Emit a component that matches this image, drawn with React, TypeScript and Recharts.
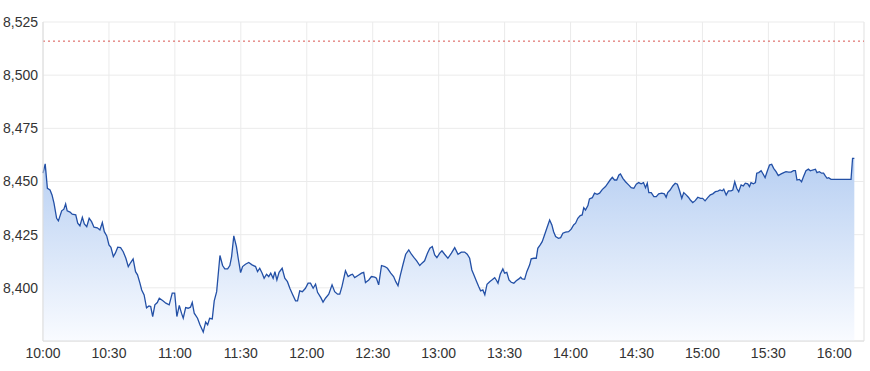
import React from "react";
import {
  ComposedChart,
  Area,
  XAxis,
  YAxis,
  CartesianGrid,
  ReferenceLine,
} from "recharts";

// [minutes since 10:00, index level]
const hour10: [number, number][] = [
  [0, 8453.9], [1.0, 8458.3], [2.0, 8446.8], [3.2, 8446.0], [4.1, 8443.7], [5.0, 8439.8],
  [6.2, 8432.7], [7.0, 8431.5], [8.5, 8436.2], [9.5, 8437.0], [10.3, 8439.5], [11.0, 8436.2],
  [12.3, 8435.6], [13.3, 8434.6], [14.9, 8434.3], [15.8, 8430.4], [16.8, 8429.1], [17.9, 8433.2],
  [18.8, 8430.1], [19.9, 8428.8], [21.0, 8432.7], [22.1, 8431.1], [23.2, 8428.5], [24.7, 8428.2],
  [25.9, 8427.2], [27.0, 8430.7], [27.9, 8426.4], [29.0, 8424.4], [30.0, 8420.2], [30.9, 8419.1],
  [32.0, 8414.7], [32.9, 8416.3], [34.0, 8419.1], [35.3, 8418.9], [36.5, 8417.0], [37.7, 8413.9],
  [38.8, 8410.0], [39.9, 8411.9], [41.0, 8413.6], [42.1, 8407.6], [43.0, 8406.1], [44.1, 8402.2],
  [44.9, 8399.0], [46.0, 8396.7], [47.1, 8390.6], [48.2, 8391.5], [49.0, 8391.2], [49.9, 8386.5],
  [50.9, 8392.0], [52.0, 8393.1], [52.9, 8395.1], [54.4, 8394.0], [55.9, 8392.8], [57.4, 8392.0],
  [58.8, 8397.5], [59.9, 8397.5],
];

const hour11: [number, number][] = [
  [60.9, 8386.5], [62.0, 8391.7], [63.0, 8388.1], [63.8, 8385.7], [64.9, 8390.7], [66.0, 8390.4],
  [67.1, 8390.9], [67.9, 8393.1], [68.8, 8388.1], [70.3, 8385.7], [71.4, 8382.6], [72.9, 8379.2],
  [74.0, 8383.9], [74.9, 8382.6], [75.8, 8385.7], [77.0, 8385.4], [77.9, 8393.9], [79.0, 8398.2],
  [80.5, 8415.2], [81.7, 8410.5], [82.7, 8408.9], [84.0, 8408.9], [85.0, 8410.5], [85.8, 8414.7],
  [86.8, 8424.4], [88.0, 8419.4], [88.8, 8413.9], [89.9, 8407.2], [90.8, 8410.0], [92.1, 8411.1],
  [93.6, 8411.9], [95.1, 8410.8], [96.7, 8410.0], [97.6, 8407.6], [98.6, 8409.2], [99.7, 8406.9],
  [100.6, 8404.5], [101.7, 8406.4], [102.7, 8405.3], [103.6, 8406.9], [104.7, 8404.5], [105.5, 8407.6],
  [106.4, 8403.7], [107.4, 8407.3], [108.8, 8409.2], [110.0, 8404.5], [111.2, 8402.9], [112.3, 8399.8],
  [113.5, 8397.0], [114.9, 8393.9], [115.8, 8393.9], [116.8, 8398.6], [118.0, 8398.2], [119.4, 8399.8],
];

const hour12: [number, number][] = [
  [120.6, 8402.2], [121.7, 8402.2], [122.9, 8399.8], [124.0, 8401.7], [124.9, 8397.9], [126.4, 8395.4],
  [127.4, 8393.3], [128.5, 8395.1], [130.0, 8397.0], [131.5, 8401.4], [132.7, 8398.2], [134.0, 8397.0],
  [135.0, 8397.0], [136.0, 8400.6], [137.6, 8408.0], [138.8, 8405.3], [140.0, 8406.1], [140.8, 8406.4],
  [141.8, 8404.8], [143.3, 8405.8], [144.9, 8406.9], [145.9, 8407.3], [146.7, 8402.5], [148.2, 8403.7],
  [149.4, 8405.3], [150.9, 8405.0], [151.7, 8404.5], [152.7, 8401.4], [154.0, 8410.5], [155.5, 8410.0],
  [156.7, 8409.2], [158.2, 8406.9], [159.5, 8405.3], [160.5, 8402.9], [161.5, 8401.0], [162.6, 8406.1],
  [163.8, 8411.1], [165.0, 8415.8], [166.4, 8417.8], [167.6, 8415.8], [168.8, 8414.2], [170.0, 8412.7],
  [171.4, 8410.5], [172.4, 8411.6], [173.6, 8412.7], [174.9, 8416.3], [176.0, 8418.6], [177.1, 8419.4],
  [178.2, 8415.5], [179.2, 8414.2],
];

const hour13: [number, number][] = [
  [180.5, 8416.3], [181.5, 8417.4], [182.7, 8415.8], [184.2, 8413.9], [185.8, 8416.3], [187.3, 8418.9],
  [188.8, 8415.8], [190.3, 8416.8], [191.8, 8416.8], [193.0, 8415.8], [194.1, 8413.9], [195.1, 8408.4],
  [196.0, 8406.1], [197.1, 8403.3], [198.2, 8400.6], [199.1, 8398.6], [200.1, 8399.0], [201.0, 8396.7],
  [202.0, 8401.7], [203.2, 8402.9], [204.2, 8403.7], [205.5, 8404.8], [206.2, 8403.7], [207.0, 8402.2],
  [208.0, 8406.4], [209.2, 8408.9], [210.0, 8406.9], [211.0, 8407.3], [212.0, 8403.7], [213.0, 8402.6],
  [214.2, 8402.2], [215.3, 8403.3], [216.5, 8404.2], [217.3, 8405.0], [218.0, 8404.2], [219.1, 8404.0],
  [220.1, 8407.6], [221.4, 8410.8], [222.1, 8413.6], [223.3, 8413.9], [224.4, 8413.9], [225.1, 8418.6],
  [226.2, 8420.2], [227.1, 8421.7], [228.2, 8425.0], [229.2, 8428.0], [230.5, 8431.9], [231.5, 8429.6],
  [232.3, 8426.4], [233.2, 8424.1], [234.5, 8423.3], [235.5, 8423.6], [236.5, 8425.7], [237.7, 8426.2],
  [239.1, 8426.4],
];

const hour14: [number, number][] = [
  [240.3, 8427.6], [241.4, 8429.6], [242.3, 8430.4], [243.3, 8432.7], [244.4, 8434.0], [245.3, 8434.3],
  [246.0, 8437.7], [246.8, 8436.6], [247.9, 8438.7], [248.6, 8441.8], [249.9, 8442.4], [250.9, 8444.5],
  [252.1, 8444.0], [253.2, 8444.5], [254.4, 8446.2], [255.9, 8447.6], [257.0, 8449.2], [258.0, 8450.7],
  [259.0, 8452.0], [260.0, 8450.7], [261.0, 8450.7], [262.0, 8453.1], [262.7, 8453.6], [263.8, 8451.5],
  [265.0, 8449.9], [266.4, 8448.4], [267.6, 8447.1], [268.8, 8446.8], [269.9, 8448.7], [271.0, 8449.5],
  [272.1, 8448.9], [273.2, 8449.5], [274.1, 8447.1], [274.9, 8449.2], [275.6, 8444.8], [276.7, 8444.8],
  [277.9, 8442.9], [279.0, 8442.9], [280.1, 8444.2], [281.5, 8444.5], [282.7, 8444.2], [283.5, 8442.6],
  [284.2, 8444.8], [285.3, 8446.0], [286.5, 8447.9], [287.6, 8449.2], [288.6, 8448.7], [289.5, 8446.0],
  [290.6, 8442.1], [291.5, 8444.8], [292.6, 8443.7], [293.6, 8442.6], [294.5, 8441.3], [295.6, 8440.1],
  [296.7, 8441.0], [297.9, 8442.6], [299.1, 8442.1],
];

const hour15: [number, number][] = [
  [300.1, 8442.1], [301.2, 8440.9], [302.4, 8442.4], [303.6, 8443.7], [304.7, 8444.2], [305.9, 8445.2],
  [307.0, 8445.5], [308.0, 8446.0], [309.0, 8445.6], [309.7, 8446.4], [310.8, 8443.7], [311.8, 8445.6],
  [313.0, 8445.6], [313.8, 8446.0], [314.7, 8449.9], [315.6, 8446.8], [316.5, 8445.2], [317.6, 8448.4],
  [318.6, 8447.9], [319.5, 8449.2], [320.6, 8448.9], [321.4, 8447.6], [322.1, 8449.5], [323.2, 8448.9],
  [324.1, 8449.5], [324.7, 8453.9], [325.6, 8454.2], [326.7, 8455.1], [327.4, 8453.9], [328.5, 8451.8],
  [329.4, 8454.6], [330.5, 8457.8], [331.5, 8458.1], [332.4, 8456.2], [333.5, 8454.6], [334.5, 8452.8],
  [335.8, 8453.6], [337.0, 8454.2], [338.0, 8454.6], [339.2, 8454.4], [340.3, 8454.4], [341.4, 8455.1],
  [342.3, 8455.1], [343.0, 8450.7], [344.1, 8451.0], [345.1, 8449.9], [346.0, 8452.3], [347.1, 8455.1],
  [348.2, 8455.8], [349.1, 8455.0], [350.1, 8455.4], [351.4, 8455.8], [352.1, 8454.2], [353.2, 8454.6],
  [354.2, 8453.9], [355.1, 8453.9], [355.9, 8452.6], [356.7, 8451.5], [357.4, 8451.8], [358.5, 8451.0],
];

const hour16: [number, number][] = [
  [367.6, 8451.0], [368.3, 8460.9], [369.1, 8460.9],
];

const tickMinutes = [0, 30, 60, 90, 120, 150, 180, 210, 240, 270, 300, 330, 360];
const tickLabels = [
  "10:00", "10:30", "11:00", "11:30", "12:00", "12:30", "13:00",
  "13:30", "14:00", "14:30", "15:00", "15:30", "16:00",
];
const yTicks = [8400, 8425, 8450, 8475, 8500, 8525];
const yDomain: [number, number] = [8375, 8525];
const xMax = 373.5;
const previousClose = 8516;

const data = [...hour10, ...hour11, ...hour12, ...hour13, ...hour14, ...hour15, ...hour16].map(
  ([t, v]) => ({ t, v })
);

const labelFor = (m: number) => {
  const i = tickMinutes.indexOf(m);
  return i >= 0 ? tickLabels[i] : "";
};

const tickStyle = { fontFamily: "'Liberation Sans', Arial, sans-serif", fontSize: 14, fill: "#333" };
const gridColor = "#ebebeb";

export default function App() {
  return (
    <div style={{ position: "absolute", left: 0, top: 0, width: 870, height: 371, background: "#fff" }}>
      <ComposedChart
        width={870}
        height={371}
        data={data}
        margin={{ top: 22, right: 6, bottom: 0, left: 0 }}
      >
        <defs>
          <linearGradient id="areaFill" x1="0" y1="0" x2="0" y2="1">
            <stop offset="0%" stopColor="#b7cff2" stopOpacity={1} />
            <stop offset="100%" stopColor="#f9fbff" stopOpacity={1} />
          </linearGradient>
        </defs>
        <CartesianGrid stroke={gridColor} strokeWidth={1} />
        <XAxis
          dataKey="t"
          type="number"
          domain={[0, xMax]}
          ticks={tickMinutes}
          tickFormatter={labelFor}
          interval={0}
          height={30}
          tickLine={false}
          tickSize={0}
          tickMargin={7}
          axisLine={{ stroke: "#dcdcdc" }}
          tick={tickStyle}
        />
        <YAxis
          type="number"
          domain={yDomain}
          ticks={yTicks}
          allowDataOverflow
          width={43}
          tickLine={false}
          tickSize={0}
          tickMargin={5}
          axisLine={{ stroke: "#dcdcdc" }}
          tick={tickStyle}
          tickFormatter={(v: number) => v.toLocaleString("en-US")}
        />
        <ReferenceLine x={xMax} stroke={gridColor} strokeWidth={1} />
        <Area
          type="linear"
          dataKey="v"
          stroke="#2350a6"
          strokeWidth={1.3}
          fill="url(#areaFill)"
          fillOpacity={1}
          baseValue="dataMin"
          dot={false}
          activeDot={false}
          isAnimationActive={false}
        />
        <ReferenceLine
          y={previousClose}
          stroke="#d9534f"
          strokeWidth={1}
          strokeDasharray="2 3"
        />
      </ComposedChart>
    </div>
  );
}
